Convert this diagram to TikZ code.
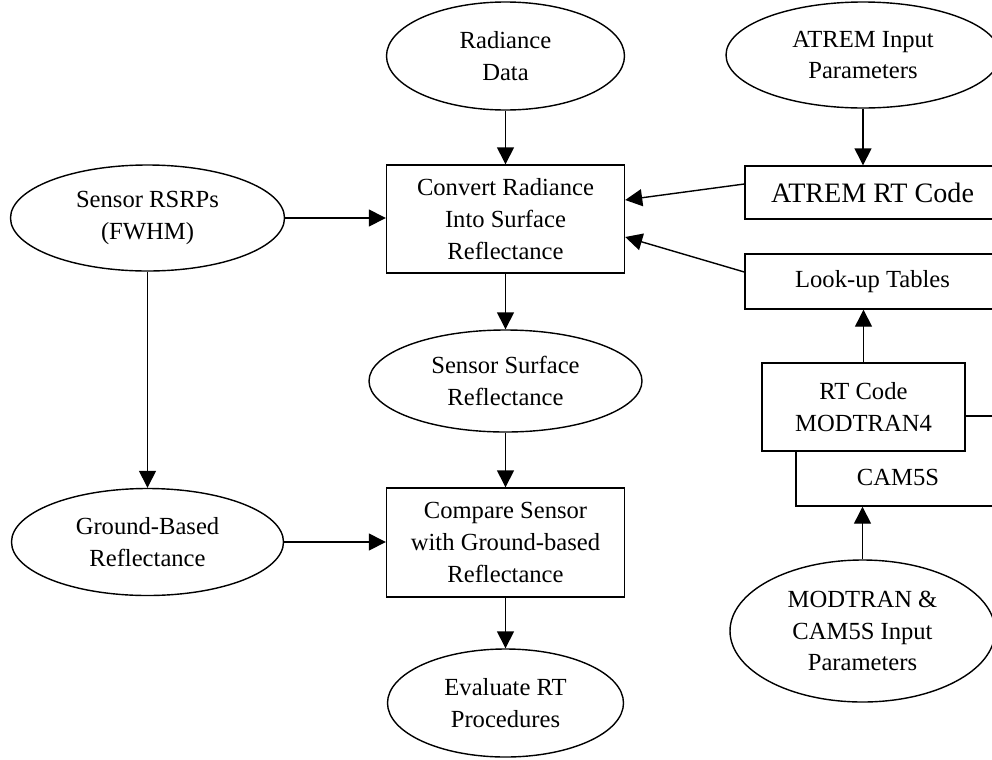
\documentclass[tikz,border=0pt]{standalone}
\usepackage{fontspec}
\setmainfont{Liberation Serif}
\usepackage{tikz}
\usetikzlibrary{shapes.geometric, arrows.meta, positioning}

\begin{document}
\begin{tikzpicture}[
    block/.style={rectangle, draw, fill=white, line width=0.8pt, text centered, align=center, font=\fontsize{14}{18}\selectfont},
    blob/.style={ellipse, draw, fill=white, line width=0.8pt, inner sep=0pt, align=center, font=\fontsize{14}{18}\selectfont},
    line/.style={draw, line width=0.8pt, -{Triangle[width=0.34cm,length=0.34cm]}}
]
\useasboundingbox (0,0) rectangle (19.84,-15.18);
\clip (0,0) rectangle (19.84,-15.18);

% inputs
\node [blob, minimum width=4.76cm, minimum height=2.16cm] (radiance) at (10.11,-1.12) {Radiance\\Data};
\node [blob, minimum width=5.48cm, minimum height=2.12cm] (atremin) at (17.26,-1.10) {ATREM Input\\Parameters};
\node [blob, minimum width=5.48cm, minimum height=2.12cm] (rsrp) at (2.95,-4.36) {Sensor RSRPs\\(FWHM)};

% main column
\node [block, minimum width=4.76cm, minimum height=2.16cm] (convert) at (10.11,-4.38) {Convert Radiance\\Into Surface\\Reflectance};
\node [blob, minimum width=5.46cm, minimum height=2.04cm] (surface) at (10.11,-7.62) {Sensor Surface\\Reflectance};
\node [block, minimum width=4.76cm, minimum height=2.18cm] (compare) at (10.11,-10.85) {Compare Sensor\\with Ground-based\\Reflectance};
\node [blob, minimum width=4.72cm, minimum height=2.16cm] (evaluate) at (10.11,-14.06) {Evaluate RT\\Procedures};
\node [blob, minimum width=5.44cm, minimum height=2.14cm] (ground) at (2.95,-10.84) {Ground-Based\\Reflectance};

% RT codes
\node [block, minimum width=5.10cm, minimum height=1.06cm, font=\fontsize{16}{19}\selectfont] (atremcode) at (17.45,-3.85) {ATREM RT Code};
\node [block, minimum width=5.10cm, minimum height=1.10cm] (lookup) at (17.45,-5.63) {Look-up Tables};
\node [block, minimum width=4.08cm, minimum height=1.80cm] (cam5s) at (17.96,-9.22) {};
\node [above=0.3cm of cam5s.south, font=\fontsize{14}{18}\selectfont] (camtext) {CAM5S};
\node [block, minimum width=4.06cm, minimum height=1.76cm] (modtran) at (17.27,-8.14) {RT Code\\MODTRAN4};
\node [blob, minimum width=5.30cm, minimum height=2.84cm] (modin) at (17.25,-12.62) {MODTRAN \&\\CAM5S Input\\Parameters};

\path [line] (radiance) -- (convert);
\path [line] (rsrp.east) -- (rsrp.east -| convert.west);
\path [line] (atremin.south) -- (atremin.south |- atremcode.north);
\path [line] ([yshift=0.17cm]atremcode.west) -- ([yshift=0.38cm]convert.east);
\path [line] ([yshift=0.19cm]lookup.west) -- ([yshift=-0.36cm]convert.east);
\path [line] (modtran.north) -- (modtran.north |- lookup.south);
\path [line] (modin.north) -- (modin.north |- cam5s.south);

\path [line] (convert) -- (surface);
\path [line] (surface) -- (compare);
\path [line] (compare) -- (evaluate);
\path [line] (rsrp.south) -- (ground.north);
\path [line] (ground.east) -- (ground.east -| compare.west);
\end{tikzpicture}
\end{document}
